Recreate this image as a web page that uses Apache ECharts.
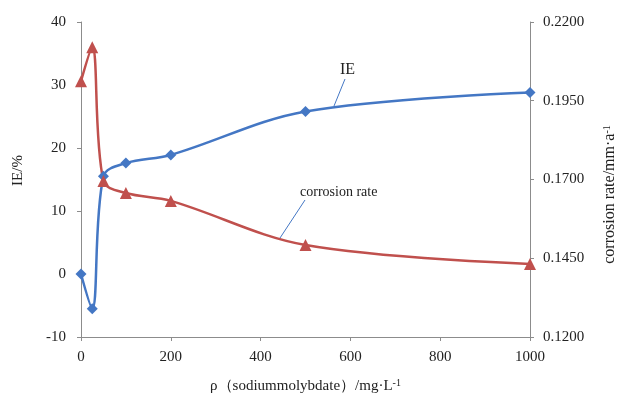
<!DOCTYPE html>
<html><head><meta charset="utf-8">
<script src="https://cdn.jsdelivr.net/npm/echarts@6/dist/echarts.min.js"></script>
<style>html,body{margin:0;padding:0;background:#fff}#c{width:618px;height:397px}</style>
</head><body><div id="c"></div>
<script>
const concentration = [0, 25, 50, 100, 200, 500, 1000];
const ieValues = [0, -5.5, 15.5, 17.6, 18.9, 25.8, 28.8];
const corrosionRate = [0.2012, 0.2120, 0.1695, 0.1657, 0.1632, 0.1492, 0.1432];
const xTicks = [0, 200, 400, 600, 800, 1000];
const leftTicks = [-10, 0, 10, 20, 30, 40];
const rightTicks = [0.12, 0.145, 0.17, 0.195, 0.22];

const font = 'Liberation Serif';
const chart = echarts.init(document.getElementById('c'));
const axisLine = {show: true, onZero: false, lineStyle: {color: '#8c8c8c', width: 1}};
chart.setOption({
  animation: false,
  grid: {left: 81, right: 88, top: 22, bottom: 60, containLabel: false, outerBoundsMode: 'none'},
  xAxis: {
    type: 'value', min: 0, max: 1000, interval: 200,
    axisLine: axisLine, axisTick: {show: true, length: 4, lineStyle: {color: '#8c8c8c'}},
    splitLine: {show: false},
    axisLabel: {fontFamily: font, fontSize: 15, color: '#222', margin: 13, formatter: v => String(v)},
    name: 'ρ（sodiummolybdate）/mg·L{s|-1}',
    nameLocation: 'middle', nameGap: 41,
    nameTextStyle: {fontFamily: font, fontSize: 15, color: '#222',
      rich: {s: {fontFamily: font, fontSize: 10, verticalAlign: 'top', color: '#222', padding: [0, 0, 6, 0]}}}
  },
  yAxis: [{
    type: 'value', min: -10, max: 40, interval: 10,
    axisLine: axisLine, axisTick: {show: true, length: 4, lineStyle: {color: '#8c8c8c'}},
    splitLine: {show: false},
    axisLabel: {fontFamily: font, fontSize: 15, color: '#222', margin: 15},
    name: 'IE/%', nameLocation: 'middle', nameGap: 55, nameRotate: 90,
    nameTextStyle: {fontFamily: font, fontSize: 15, color: '#222', padding: [0, 0, 0, 18]}
  }, {
    type: 'value', min: 0.12, max: 0.22, interval: 0.025,
    axisLine: axisLine, axisTick: {show: true, length: 4, lineStyle: {color: '#8c8c8c'}},
    splitLine: {show: false},
    axisLabel: {fontFamily: font, fontSize: 15, color: '#222', margin: 13,
      formatter: v => v.toFixed(4)},
    name: 'corrosion rate/mm·a{s|-1}', nameLocation: 'middle', nameGap: 72, nameRotate: 90,
    nameTextStyle: {fontFamily: font, fontSize: 16, color: '#222', padding: [0, 30, 0, 0],
      rich: {s: {fontFamily: font, fontSize: 10, color: '#222', padding: [0, 0, 6, 0]}}}
  }],
  series: [{
    name: 'IE', type: 'line', yAxisIndex: 0, smooth: 0.35,
    data: concentration.map((x, i) => [x, ieValues[i]]),
    symbol: 'diamond', symbolSize: 11,
    lineStyle: {color: '#4477C4', width: 2.5},
    itemStyle: {color: '#4477C4'}
  }, {
    name: 'corrosion rate', type: 'line', yAxisIndex: 1, smooth: 0.35,
    data: concentration.map((x, i) => [x, corrosionRate[i]]),
    symbol: 'triangle', symbolSize: 12,
    lineStyle: {color: '#C0504D', width: 2.5},
    itemStyle: {color: '#C0504D'}
  }],
  graphic: [
    {type: 'line', shape: {x1: 345, y1: 79, x2: 334, y2: 106}, style: {stroke: '#4477C4', lineWidth: 1}},
    {type: 'text', left: 340, top: 62, style: {text: 'IE', font: '16px "Liberation Serif"', fill: '#222'}},
    {type: 'line', shape: {x1: 305, y1: 200, x2: 280, y2: 238}, style: {stroke: '#4477C4', lineWidth: 1}},
    {type: 'text', left: 300, top: 185, style: {text: 'corrosion rate', font: '14px "Liberation Serif"', fill: '#222'}}
  ]
});
</script></body></html>
